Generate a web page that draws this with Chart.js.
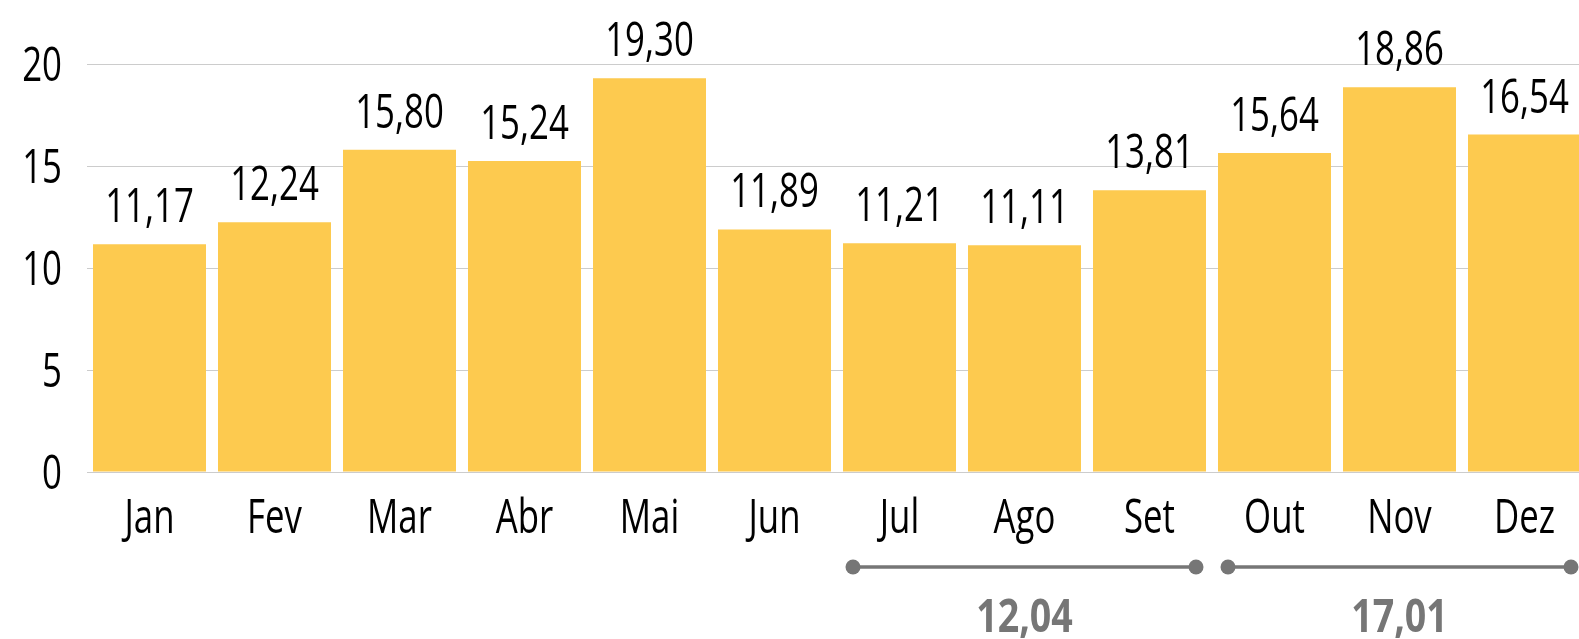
<!DOCTYPE html>
<html>
<head>
<meta charset="utf-8">
<script src="https://cdn.jsdelivr.net/npm/chart.js@4/dist/chart.umd.min.js"></script>
<style>
  html, body { margin: 0; padding: 0; background: #fff; overflow: hidden; }
  #wrap { width: 1595px; height: 639px; }
</style>
</head>
<body>
<div id="wrap"><canvas id="chart"></canvas></div>
<script>
const months = ['Jan', 'Fev', 'Mar', 'Abr', 'Mai', 'Jun', 'Jul', 'Ago', 'Set', 'Out', 'Nov', 'Dez'];
const values = [11.17, 12.24, 15.80, 15.24, 19.30, 11.89, 11.21, 11.11, 13.81, 15.64, 18.86, 16.54];
const yTicks = [0, 5, 10, 15, 20];

// quarter averages shown under the axis
const groupFrom = [6, 9];
const groupTo = [8, 11];
const groupValues = [12.04, 17.01];

const FONT = "'Open Sans', sans-serif";
const fmt = v => v.toFixed(2).replace('.', ',');

// draw text horizontally squeezed around its anchor (condensed look)
function squeezedText(ctx, text, x, y, align, weight, squeeze) {
    ctx.save();
    ctx.font = weight + ' 47px ' + FONT;
    ctx.textAlign = align;
    ctx.textBaseline = 'alphabetic';
    ctx.translate(x, y);
    ctx.scale(squeeze || 0.74, 1);
    ctx.fillText(text, 0, 0);
    ctx.restore();
}

const axisText = {
    id: 'axisText',
    afterDraw(chart) {
        const ctx = chart.ctx;
        const xs = chart.scales.x;
        const ys = chart.scales.y;
        ctx.save();
        ctx.fillStyle = '#000';
        yTicks.forEach(v => {
            squeezedText(ctx, String(v), ys.right - 25, ys.getPixelForValue(v) + 17, 'right', 'normal');
        });
        months.forEach((m, i) => {
            squeezedText(ctx, m, xs.getPixelForValue(i), 533, 'center', 'normal');
        });
        ctx.restore();
    }
};

const barLabels = {
    id: 'barLabels',
    afterDatasetsDraw(chart) {
        const ctx = chart.ctx;
        const meta = chart.getDatasetMeta(0);
        ctx.save();
        ctx.fillStyle = '#000';
        meta.data.forEach((bar, i) => {
            squeezedText(ctx, fmt(values[i]), bar.x, bar.y - 22, 'center', 'normal');
        });
        ctx.restore();
    }
};

const groupBrackets = {
    id: 'groupBrackets',
    afterDraw(chart) {
        const ctx = chart.ctx;
        const meta = chart.getDatasetMeta(0);
        const lineY = 567;
        ctx.save();
        ctx.strokeStyle = '#767676';
        ctx.fillStyle = '#767676';
        ctx.lineWidth = 3.5;
        groupValues.forEach((v, g) => {
            const a = meta.data[groupFrom[g]];
            const b = meta.data[groupTo[g]];
            const x1 = a.x - a.width / 2 + 10;
            const x2 = b.x + b.width / 2 - 10;
            ctx.beginPath();
            ctx.moveTo(x1, lineY);
            ctx.lineTo(x2, lineY);
            ctx.stroke();
            [x1, x2].forEach(x => {
                ctx.beginPath();
                ctx.arc(x, lineY, 7.5, 0, Math.PI * 2);
                ctx.fill();
            });
            squeezedText(ctx, fmt(v), (x1 + x2) / 2, 632, 'center', 'bold', 0.8);
        });
        ctx.restore();
    }
};

new Chart(document.getElementById('chart'), {
    type: 'bar',
    data: {
        labels: months,
        datasets: [{
            data: values,
            backgroundColor: '#fdca4f',
            barPercentage: 0.904,
            categoryPercentage: 1
        }]
    },
    options: {
        responsive: true,
        maintainAspectRatio: false,
        animation: false,
        layout: { padding: { top: 64, right: 8, left: 0, bottom: 0 } },
        plugins: {
            legend: { display: false },
            tooltip: { enabled: false }
        },
        scales: {
            x: {
                grid: { display: false, drawTicks: false },
                border: { display: false },
                ticks: { display: false },
                afterFit(s) { s.height = 167; }
            },
            y: {
                min: 0,
                max: 20,
                afterBuildTicks(s) { s.ticks = yTicks.map(v => ({ value: v })); },
                grid: { color: '#cccccc', lineWidth: 1, drawTicks: false },
                border: { display: false },
                ticks: { display: false },
                afterFit(s) { s.width = 87; }
            }
        }
    },
    plugins: [barLabels, axisText, groupBrackets]
});
</script>
</body>
</html>
